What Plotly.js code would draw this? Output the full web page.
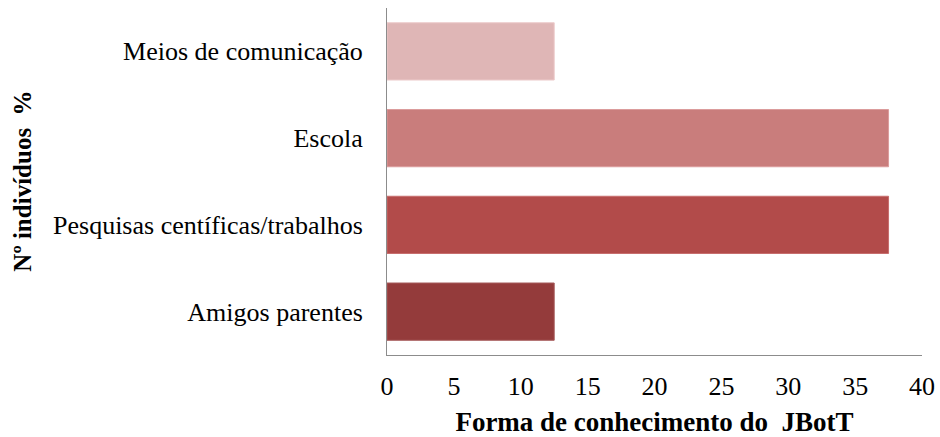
<!DOCTYPE html>
<html><head><meta charset="utf-8">
<script src="https://cdn.plot.ly/plotly-3.0.1.min.js"></script>
<style>body{margin:0;background:#fff}#chart{width:940px;height:437px}</style>
</head><body><div id="chart"></div>
<script>
const categories = ["Amigos parentes", "Pesquisas centíficas/trabalhos", "Escola", "Meios de comunicação"];
const values = [12.5, 37.5, 37.5, 12.5];
const barColors = ["#943B3B", "#B24B4A", "#C97D7C", "#DFB6B6"];
const lineColors = ["#A55A5A", "#C76E6E", "#DB9C9C", "#ECCACA"];
const xTicks = [0, 5, 10, 15, 20, 25, 30, 35, 40];
const xTitle = "Forma de conhecimento do  JBotT";
const yTitle = "Nº indivíduos  %";

Plotly.newPlot("chart", [{
  type: "bar", orientation: "h",
  y: categories, x: values,
  marker: {color: barColors, line: {color: lineColors, width: 1}},
  width: 0.66, hoverinfo: "none"
}], {
  width: 940, height: 437,
  margin: {l: 387, r: 18, t: 8, b: 82},
  paper_bgcolor: "#fff", plot_bgcolor: "#fff",
  font: {family: "Liberation Serif, Times New Roman, serif", color: "#000", size: 26},
  showlegend: false,
  xaxis: {
    range: [0, 40], tickvals: xTicks, ticktext: xTicks.map(String),
    showgrid: false, zeroline: false, showline: true, linecolor: "#8c8c8c", linewidth: 1,
    ticks: "", ticklabelstandoff: 8, tickfont: {size: 26},
    title: {text: "<b>" + xTitle + "</b>", font: {size: 27}, standoff: 14}
  },
  yaxis: {
    categoryorder: "array", categoryarray: categories,
    showgrid: false, zeroline: false, showline: true, linecolor: "#8c8c8c", linewidth: 1,
    ticks: "", ticklabelstandoff: 18, tickfont: {size: 26}
  },
  annotations: [{
    text: "<b>" + yTitle + "</b>", textangle: -90, showarrow: false,
    xref: "paper", yref: "paper", x: -0.682, y: 0.5, xanchor: "center", yanchor: "middle",
    font: {size: 25}
  }]
}, {staticPlot: true});
</script></body></html>
